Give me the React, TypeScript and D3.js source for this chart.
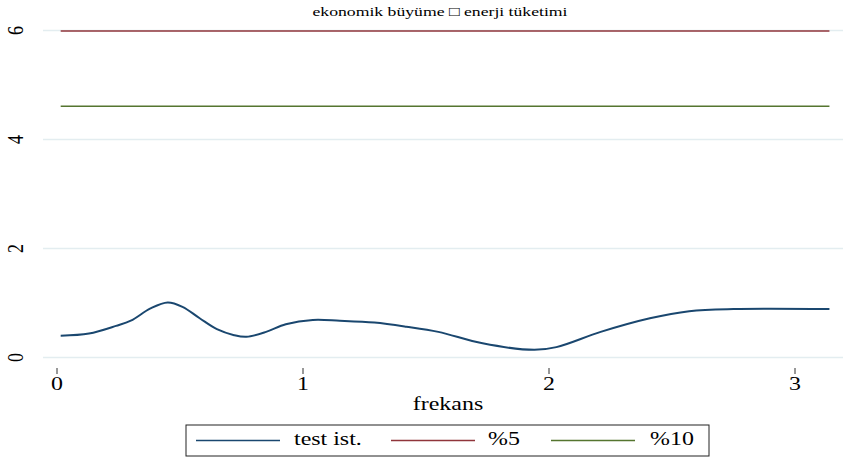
import React from "react";
import * as d3 from "d3";

// test statistic over frequency (0..pi)
const freq = [0.015, 0.13, 0.24, 0.30, 0.38, 0.45, 0.51, 0.58, 0.65, 0.72, 0.77, 0.85, 0.93, 1.04, 1.15, 1.29, 1.42, 1.55, 1.73, 1.94, 2.03, 2.21, 2.41, 2.57, 2.75, 3.14];
const testIst = [0.40, 0.44, 0.58, 0.675, 0.90, 1.01, 0.93, 0.72, 0.52, 0.41, 0.38, 0.47, 0.61, 0.69, 0.675, 0.64, 0.565, 0.47, 0.26, 0.14, 0.19, 0.47, 0.72, 0.85, 0.89, 0.89];
const crit5 = 5.99;
const crit10 = 4.61;

const xTicks = [0, 1, 2, 3];
const yTicks = [0, 2, 4, 6];
const legendItems = [
  { label: "test ist.", color: "#1a476f" },
  { label: "%5", color: "#90353b" },
  { label: "%10", color: "#55752f" },
];

const W = 844;
const H = 459;
const font = "Liberation Serif, Times New Roman, serif";
// the original graph is stretched sideways, text included
const SX = 1.33;

const Txt = (props: { x: number; y: number; size: number; anchor?: string; rot?: boolean; children: React.ReactNode }) => (
  <text
    transform={`translate(${props.x},${props.y}) scale(${SX},1)${props.rot ? " rotate(-90)" : ""}`}
    textAnchor={props.anchor || "start"}
    fontSize={props.size}
    style={{ fontFamily: font }}
    fill="#000"
  >
    {props.children}
  </text>
);

export default function App() {
  const x = d3.scaleLinear().domain([0, 3]).range([57, 795]);
  const y = d3.scaleLinear().domain([0, 6]).range([357.5, 30.5]);
  const data = freq.map((f, i) => ({ f, v: testIst[i] }));
  const line = d3.line<{ f: number; v: number }>()
    .x(d => x(d.f))
    .y(d => y(d.v))
    .curve(d3.curveCatmullRom.alpha(0.5));
  const fMin = freq[0];
  const fMax = freq[freq.length - 1];

  return (
    <svg width={W} height={H} style={{ position: "absolute", left: 0, top: 0, background: "#fff" }}>
      <Txt x={440} y={15.5} size={13.3} anchor="middle">ekonomik büyüme □ enerji tüketimi</Txt>

      {yTicks.map(t => (
        <g key={t}>
          <line x1={43} x2={843} y1={y(t)} y2={y(t)} stroke="#e3edf0" strokeWidth={1.5} />
          <Txt x={22.5} y={y(t)} size={18} anchor="middle" rot>{t}</Txt>
        </g>
      ))}

      {xTicks.map(t => (
        <g key={t}>
          <line x1={x(t)} x2={x(t)} y1={368} y2={374} stroke="#333" strokeWidth={1} />
          <Txt x={x(t)} y={390} size={18} anchor="middle">{t}</Txt>
        </g>
      ))}
      <Txt x={448} y={409.5} size={18} anchor="middle">frekans</Txt>

      <line x1={x(fMin)} x2={x(fMax)} y1={y(crit5)} y2={y(crit5)} stroke="#90353b" strokeWidth={1.6} />
      <line x1={x(fMin)} x2={x(fMax)} y1={y(crit10)} y2={y(crit10)} stroke="#55752f" strokeWidth={1.6} />
      <path d={line(data) ?? ""} fill="none" stroke="#1a476f" strokeWidth={2} />

      <rect x={186} y={425} width={523} height={31} fill="#fff" stroke="#222" strokeWidth={1} />
      {legendItems.map((it, i) => {
        const lx = [196, 391, 551][i];
        const tx = [294, 488, 650][i];
        return (
          <g key={it.label}>
            <line x1={lx} x2={lx + 84} y1={440.5} y2={440.5} stroke={it.color} strokeWidth={1.6} />
            <Txt x={tx} y={445} size={18}>{it.label}</Txt>
          </g>
        );
      })}
    </svg>
  );
}
